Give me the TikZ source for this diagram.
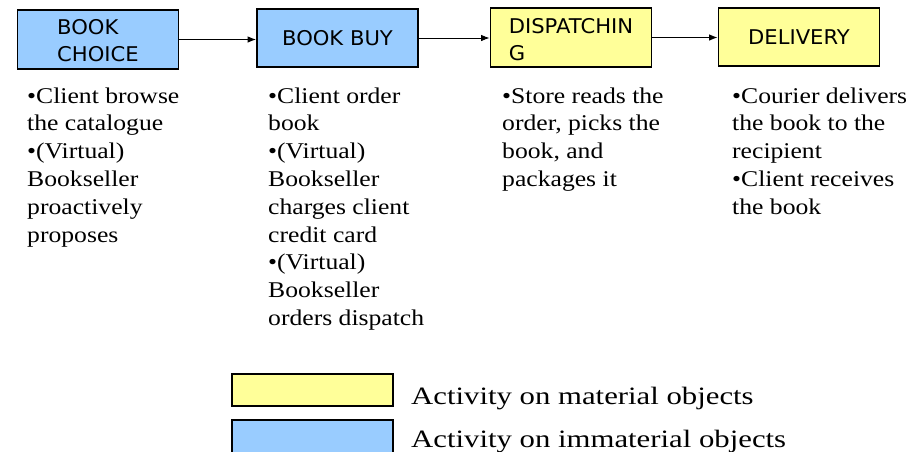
\documentclass[tikz,border=0pt]{standalone}
\usepackage{fontspec}
\setmainfont{Liberation Serif}
\newfontfamily\bodyfont[FakeStretch=1.14]{Liberation Serif}
\newfontfamily\legendfont[FakeStretch=1.23]{Liberation Serif}
\newfontfamily\boxfont[FakeStretch=1.04]{DejaVu Sans}
\usetikzlibrary{arrows.meta}
\definecolor{immblue}{HTML}{99CCFF}
\definecolor{matyellow}{HTML}{FFFF99}
% a left-aligned block whose baseline is that of its first line
\newcommand{\notelines}[1]{\begin{tabular}[t]{@{}l@{}}#1\end{tabular}}
% invisible height on a first line that lowers a two-line label a little
\newcommand{\headroom}[1]{\rule{0pt}{#1}}
\begin{document}
\begin{tikzpicture}[x=1pt,y=-1pt,
  activity/.style={draw=black,line width=1.8pt,inner sep=0pt,align=left,
    minimum width=161pt,minimum height=58pt,
    font=\boxfont\fontsize{20.3}{27}\selectfont},
  immaterial/.style={activity,fill=immblue},
  material/.style={activity,fill=matyellow},
  notes/.style={anchor=base west,inner sep=0pt,
    font=\bodyfont\fontsize{22.5}{27.8}\selectfont},
  legendtext/.style={anchor=base west,inner sep=0pt,
    font=\legendfont\fontsize{25}{30}\selectfont},
  flow/.style={draw=black,line width=0.9pt,-{Latex[length=8.5pt,width=6.5pt]}},
]
\clip (0,0) rectangle (922,451);
\useasboundingbox (0,0) rectangle (922,451);

% process steps
\node[immaterial,line width=1.2pt,minimum height=59pt] (choice) at (98,39.5) {\headroom{18pt}BOOK\\CHOICE};
\node[immaterial] (buy) at (337.5,38) {BOOK BUY};
\node[material,minimum height=59pt] (dispatch) at (571,37.5) {\headroom{20pt}DISPATCHIN\\G};
\node[material] (delivery) at (799,37) {DELIVERY};

\draw[flow] (choice.east) -- (choice.east -| buy.west);
\draw[flow] (buy.east) -- (buy.east -| dispatch.west);
\draw[flow] (dispatch.east) -- (dispatch.east -| delivery.west);

% descriptions under each step
\node[notes] (choicenote) at (27,103) {\notelines{•Client browse\\the catalogue\\•(Virtual)\\Bookseller\\proactively\\proposes}};
\node[notes] (buynote) at (268,103) {\notelines{•Client order\\book\\•(Virtual)\\Bookseller\\charges client\\credit card\\•(Virtual)\\Bookseller\\orders dispatch}};
\node[notes] (dispatchnote) at (502,103) {\notelines{•Store reads the\\order, picks the\\book, and\\packages it}};
\node[notes] (deliverynote) at (732,103) {\notelines{•Courier delivers\\the book to the\\recipient\\•Client receives\\the book}};

% legend
\node[draw=black,line width=1.2pt,fill=matyellow,minimum width=161pt,minimum height=32pt,inner sep=0pt] (matkey) at (312.5,390) {};
\node[draw=black,line width=1.8pt,fill=immblue,minimum width=161pt,minimum height=40pt,inner sep=0pt] (immkey) at (312.5,440) {};
\node[legendtext] (matlabel) at (411,404) {Activity on material objects};
\node[legendtext] (immlabel) at (411,447) {Activity on immaterial objects};
\end{tikzpicture}
\end{document}
